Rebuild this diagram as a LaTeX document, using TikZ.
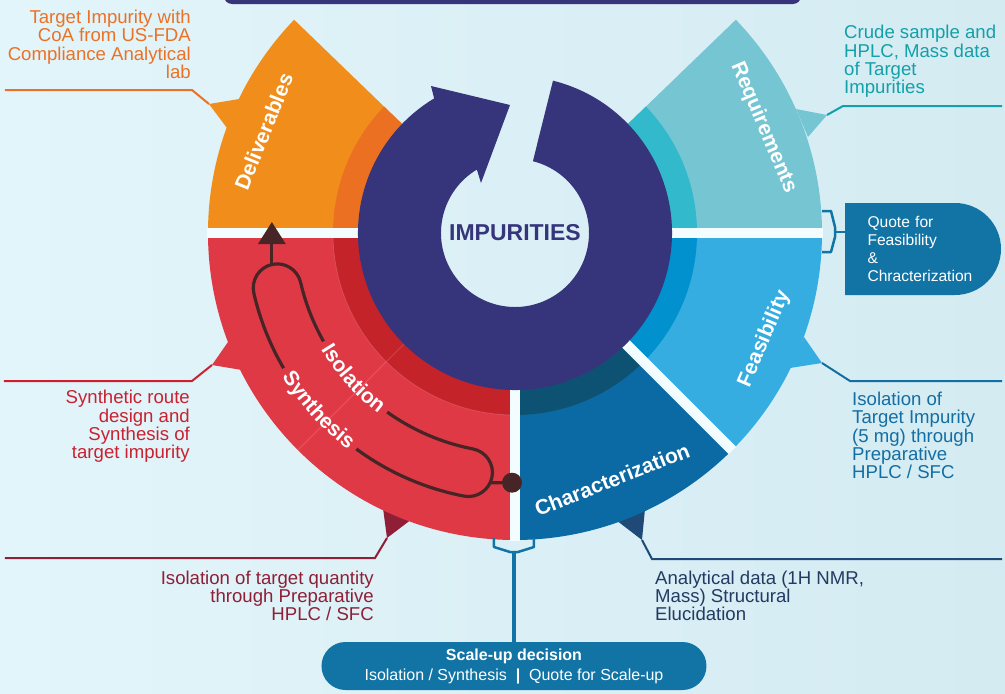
\documentclass[tikz,border=0pt]{standalone}
\usepackage{fontspec}
\setmainfont{Liberation Sans}
\usepackage{tikz}
\usetikzlibrary{arrows.meta,shapes.misc,positioning,calc,decorations.text}
\definecolor{impurple}{RGB}{54,53,123}
\definecolor{deliv}{RGB}{241,142,27}
\definecolor{delivdark}{RGB}{236,112,33}
\definecolor{delivtext}{RGB}{236,113,37}
\definecolor{synth}{RGB}{224,57,70}
\definecolor{synthdark}{RGB}{196,35,42}
\definecolor{synthtext}{RGB}{201,33,48}
\definecolor{isowine}{RGB}{142,31,54}
\definecolor{charac}{RGB}{11,106,164}
\definecolor{characdark}{RGB}{14,82,115}
\definecolor{characnavy}{RGB}{31,74,120}
\definecolor{charactext}{RGB}{35,59,99}
\definecolor{feas}{RGB}{53,173,225}
\definecolor{feasdark}{RGB}{0,145,206}
\definecolor{feastext}{RGB}{19,110,163}
\definecolor{req}{RGB}{117,197,211}
\definecolor{reqdark}{RGB}{51,185,204}
\definecolor{reqtext}{RGB}{19,160,168}
\definecolor{quotebox}{RGB}{18,115,165}
\definecolor{loopbrown}{RGB}{71,37,38}
\definecolor{gapwhite}{RGB}{243,252,254}
\definecolor{bgleft}{RGB}{226,245,250}
\definecolor{bgmid}{RGB}{242,252,254}
\definecolor{bgright}{RGB}{212,235,242}

\begin{document}
\begin{tikzpicture}[
    x=1pt, y=1pt,
    note/.style={inner sep=0pt, font=\fontsize{18.6}{18.3}\selectfont},
    seclabel/.style={text=white, font=\bfseries\fontsize{21}{24}\selectfont},
    arclabel/.style={decorate, decoration={text along path, text align=center, text color=white, text={|\bfseries\fontsize{21}{24}\selectfont|#1}}},
    pointerline/.style={line width=2pt},
    gap/.style={draw=gapwhite, line width=10.5pt},
    loopline/.style={draw=loopbrown, line width=3.2pt},
    bracket/.style={draw=quotebox, line width=2.5pt, line join=round},
    pill/.style={shape=rounded rectangle, fill=quotebox, text=white, inner sep=0pt}
]
    % Page and background
    \useasboundingbox (-515,-461) rectangle (490,233);
    \clip (-515,-461) rectangle (490,233);
    \shade[left color=bgleft, middle color=bgmid, right color=bgright] (-515,-461) rectangle (490,233);
    \fill[impurple, rounded corners=8pt] (-291,229) rectangle (286,262);

    % Pointers
    \fill[deliv] (-276,134) -- (-306,129) -- (-288,105) -- cycle;
    \fill[synth] (-287,-109) -- (-303,-132) -- (-273,-137) -- cycle;
    \fill[isowine] (-132,-275) -- (-128,-305) -- (-103,-286) -- cycle;
    \fill[characnavy] (101,-287) -- (127,-307) -- (130,-276) -- cycle;
    \fill[feas] (289,-104) -- (307,-130) -- (275,-135) -- cycle;
    \fill[req] (281,124) -- (312,118) -- (293,96) -- cycle;

    % Callout lines
    \coordinate (delTip) at (-306,129);
    \coordinate (synTip) at (-303,-132);
    \coordinate (isoTip) at (-128,-305);
    \coordinate (charTip) at (127,-307);
    \coordinate (feasTip) at (307,-130);
    \coordinate (reqTip) at (312,118);
    \draw[pointerline, delivtext] (delTip) -- (-323,143) -- (-510,143);
    \draw[pointerline, synthtext] (synTip) -- (-323,-148) -- (-511,-148);
    \draw[pointerline, isowine] (isoTip) -- (-140,-325) -- (-510,-325);
    \draw[pointerline, characnavy] (charTip) -- (137,-326) -- (487,-326);
    \draw[pointerline, feastext] (feasTip) -- (335,-148) -- (487,-148);
    \draw[pointerline, reqtext] (reqTip) -- (328,127) -- (487,127);

    % Outer sectors
    \fill[deliv] (136:150) arc[start angle=136, end angle=180, radius=150] -- (180:307) arc[start angle=180, end angle=136, radius=307] -- cycle;
    \fill[synth] (180:150) arc[start angle=180, end angle=270, radius=150] -- (270:307) arc[start angle=270, end angle=180, radius=307] -- cycle;
    \fill[charac] (270:150) arc[start angle=270, end angle=315, radius=150] -- (315:307) arc[start angle=315, end angle=270, radius=307] -- cycle;
    \fill[feas] (315:150) arc[start angle=315, end angle=360, radius=150] -- (360:307) arc[start angle=360, end angle=315, radius=307] -- cycle;
    \fill[req] (0:150) arc[start angle=0, end angle=44, radius=150] -- (44:307) arc[start angle=44, end angle=0, radius=307] -- cycle;

    % Inner ring
    \fill[delivdark] (136:150) arc[start angle=136, end angle=180, radius=150] -- (180:182) arc[start angle=180, end angle=136, radius=182] -- cycle;
    \fill[synthdark] (180:150) arc[start angle=180, end angle=270, radius=150] -- (270:182) arc[start angle=270, end angle=180, radius=182] -- cycle;
    \fill[characdark] (270:150) arc[start angle=270, end angle=315, radius=150] -- (315:182) arc[start angle=315, end angle=270, radius=182] -- cycle;
    \fill[feasdark] (315:150) arc[start angle=315, end angle=360, radius=150] -- (360:182) arc[start angle=360, end angle=315, radius=182] -- cycle;
    \fill[reqdark] (0:150) arc[start angle=0, end angle=44, radius=150] -- (44:182) arc[start angle=44, end angle=0, radius=182] -- cycle;
    \draw[white, opacity=.15, line width=.8pt] (225:150) -- (225:307);
    \draw[white, opacity=.15, line width=.8pt] (180:182) arc[start angle=180, end angle=270, radius=182];

    % Gaps
    \draw[gap] (180:150) -- (180:307.5);
    \draw[gap] (0:150) -- (0:307.5);
    \draw[gap] (270:150) -- (270:307.5);
    \draw[gap] (315:150) -- (315:307.5);

    % Cycle arrow
    \fill[impurple] (76:157) arc[start angle=76, end angle=-239, radius=157] -- (-84,147) -- (-5,128) -- (-34,50) -- (121:74) arc[start angle=121, end angle=436, radius=74] -- cycle;
    \node[text=impurple, font=\bfseries\fontsize{23}{26}\selectfont] (imp) at (0,0) {IMPURITIES};

    % Sector labels
    \node[seclabel, rotate=68] (delLabel) at (158:271) {Deliverables};
    \node[seclabel, rotate=-67] (reqLabel) at (23:270) {Requirements};
    \node[seclabel, rotate=67] (feasLabel) at (-23:271) {Feasibility};
    \node[seclabel, rotate=21.5] (charLabel) at (-68.5:265) {Characterization};

    % Isolation / synthesis loop
    \draw[loopline] (233.7:268) arc[start angle=233.7, end angle=259, radius=268] arc[start angle=259, end angle=439, radius=24] arc[start angle=259, end angle=234.5, radius=220];
    \draw[loopline] (209.5:220) arc[start angle=209.5, end angle=193, radius=220] arc[start angle=13, end angle=193, radius=24] arc[start angle=193, end angle=210.3, radius=268];
    \coordinate (loopTop) at ($(193:244)+(103:24)$);
    \coordinate (loopRight) at ($(259:244)+(335:24)$);
    \draw[loopline, -{Triangle[width=27pt,length=22pt]}] (loopTop) -- ++(0,42.5);
    \node[circle, fill=loopbrown, minimum size=20pt, inner sep=0pt] (dot) at (-3,-249.7) {};
    \draw[loopline] (loopRight) -- (dot);
    \path[arclabel=Isolation] (204:226.5) arc[start angle=204, end angle=240, radius=226.5];
    \path[arclabel=Synthesis] (204:273.5) arc[start angle=204, end angle=240, radius=273.5];

    % Quote box
    \fill[quotebox] (330,30) -- (440,30) arc[start angle=90, end angle=-90, radius=46] -- (330,-62) -- cycle;
    \node[text=white, minimum width=156pt, minimum height=92pt, inner sep=0pt, text width=111pt, align=left, font=\fontsize{15.6}{18}\selectfont] (quote) at (408,-16) {Quote for\\Feasibility\\\&\\Chracterization};
    \draw[bracket] (307,22) -- (316,22) -- (320,6) -- (320,-4) -- (316,-19) -- (307,-19);
    \coordinate (quoteJoin) at (320,1);
    \draw[quotebox, line width=2.5pt] (quoteJoin) -- (quoteJoin -| quote.west);

    % Scale-up decision
    \node[pill, minimum width=385pt, minimum height=48pt, align=center, font=\fontsize{16}{20}\selectfont] (scale) at (-1,-433) {\textbf{Scale-up decision}\\Isolation / Synthesis \ \textbf{|} \ Quote for Scale-up};
    \draw[bracket] (-21,-305) -- (-21,-314) -- (-5,-319) -- (3,-319) -- (19,-314) -- (19,-305);
    \coordinate (scaleJoin) at (-1,-319);
    \draw[quotebox, line width=4.5pt] (scaleJoin) -- (scale);

    % Notes
    \node[note, text=delivtext, align=right, anchor=east] (delNote) at (-324,188.5) {Target Impurity with\\CoA from US-FDA\\Compliance Analytical\\lab};
    \node[note, text=synthtext, align=right, anchor=east] (synNote) at (-325,-193.5) {Synthetic route\\design and\\Synthesis of\\target impurity};
    \node[note, text=isowine, align=right, anchor=east] (isoNote) at (-141,-363) {Isolation of target quantity\\through Preparative\\HPLC / SFC};
    \node[note, text=charactext, align=left, anchor=west] (charNote) at (140,-363) {Analytical data (1H NMR,\\Mass) Structural\\Elucidation};
    \node[note, text=feastext, align=left, anchor=west] (feasNote) at (337,-202.5) {Isolation of\\Target Impurity\\(5 mg) through\\Preparative\\HPLC / SFC};
    \node[note, text=reqtext, align=left, anchor=west] (reqNote) at (329,171.5) {Crude sample and\\HPLC, Mass data\\of Target\\Impurities};
\end{tikzpicture}
\end{document}
